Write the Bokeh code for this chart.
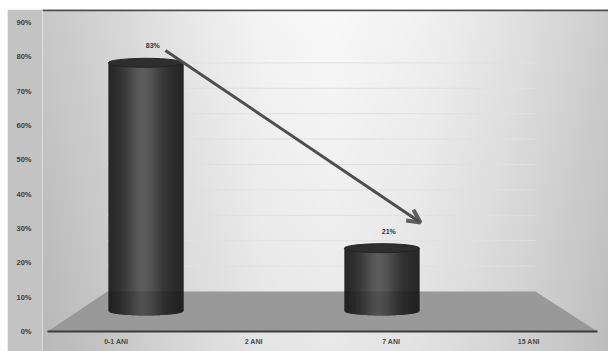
import numpy as np
from bokeh.plotting import figure
from bokeh.models import Range1d, FixedTicker, Arrow, OpenHead
from bokeh.core.properties import value
from bokeh.embed import file_html
from bokeh.resources import INLINE

# ---- data -------------------------------------------------------------
categories = ["0-1 ANI", "2 ANI", "7 ANI", "15 ANI"]
shares = [0.83, None, 0.21, None]
y_ticks = [0.0, 0.1, 0.2, 0.3, 0.4, 0.5, 0.6, 0.7, 0.8, 0.9]
y_tick_labels = ["0%", "10%", "20%", "30%", "40%", "50%", "60%", "70%", "80%", "90%"]

# ---- scene geometry (data units: x = category slot, y = share) ---------
FONT = "Liberation Sans"
X_LO, X_HI = -0.536, 3.580
Y_LO, Y_HI = -0.0583, 0.938
FRONT_L, FRONT_R, FRONT_Y = -0.5, 3.5, 0.0        # front edge of the floor
BACK_L, BACK_R, BACK_Y = -0.064, 3.049, 0.1165    # back edge of the floor
WALL_STEP = 0.074                                 # 10 % on the back wall
ROW_X0, ROW_DX = 0.216, 0.858                     # cylinder row, half way in
ROW_BASE, ROW_SCALE = 0.0597, 0.871
RADIUS = 0.273
ELL = 0.0131
N_STRIPS = 60

p = figure(width=601, height=342, x_range=Range1d(X_LO, X_HI),
           y_range=Range1d(Y_LO, Y_HI), output_backend="svg",
           toolbar_location=None, x_axis_location=None,
           min_border_left=35, min_border_right=0, min_border_top=0,
           min_border_bottom=0, border_fill_color="#c3c3c3",
           background_fill_color="#eeeeee", outline_line_color=None,
           margin=(9, 0, 0, 7))
p.grid.visible = False

# ---- background: soft horizontal/vertical gradient -----------------------
W, H = 283, 171
px = 42 + (np.arange(W) + 0.5) * 2.0
py = 351 - (np.arange(H) + 0.5) * 2.0
stops_x = [42, 100, 180, 260, 330, 420, 500, 560, 608]
stops_g = [0xc8, 0xd4, 0xe7, 0xf5, 0xf9, 0xf2, 0xe5, 0xd8, 0xcd]
gx = np.interp(px, stops_x, stops_g)
gray = gx[None, :] - 16.0 * ((py[:, None] - 9) / 342.0)
gray = np.clip(gray, 0, 255).astype(np.uint32)
img = (255 << 24) | (gray << 16) | (gray << 8) | gray
p.image_rgba(image=[img.astype(np.uint32)], x=X_LO, y=Y_LO,
             dw=X_HI - X_LO, dh=Y_HI - Y_LO)

# ---- back wall gridlines ------------------------------------------------
wall_y = [BACK_Y + k * WALL_STEP for k in range(1, len(y_ticks))]
p.segment(x0=[BACK_L] * len(wall_y), y0=wall_y, x1=[BACK_R] * len(wall_y),
          y1=wall_y, line_color="#e0e0e0", line_width=1)

# ---- floor ---------------------------------------------------------------
floor_xs = [FRONT_L, FRONT_R, BACK_R, BACK_L]
floor_ys = [FRONT_Y, FRONT_Y, BACK_Y, BACK_Y]
p.patch(floor_xs, floor_ys, fill_color="#b0b0b0", line_color=None)

# ---- cylinders -------------------------------------------------------------
def shade(u):
    v = 38 + 44 * np.exp(-((u + 0.08) / 0.45) ** 2) + 10 * (1 - u * u)
    g = int(round(v))
    return "#%02x%02x%02x" % (g, g, g)

def arc(u):
    return np.sqrt(max(0.0, 1 - u * u))

edges = np.linspace(-1.0, 1.0, N_STRIPS + 1)
step = edges[1] - edges[0]
strip_xs, strip_ys, strip_col = [], [], []
caps_x, caps_y = [], []
label_x, label_y, label_t = [], [], []
tops = {}
for i, v in enumerate(shares):
    if v is None:
        continue
    cx = ROW_X0 + ROW_DX * i
    top = ROW_BASE + v * ROW_SCALE
    tops[i] = (cx, top)
    for a, b in zip(edges[:-1], edges[1:]):
        # each strip reaches a little into the next one so no seams show
        c = min(1.0, b + step)
        m = 0.5 * (a + c)
        strip_xs.append([cx + RADIUS * a, cx + RADIUS * m, cx + RADIUS * c,
                         cx + RADIUS * c, cx + RADIUS * a])
        strip_ys.append([ROW_BASE - ELL * arc(a), ROW_BASE - ELL * arc(m),
                         ROW_BASE - ELL * arc(c), top, top])
        strip_col.append(shade(0.5 * (a + b)))
    caps_x.append(cx)
    caps_y.append(top)
    label_x.append(cx + 0.05)
    label_y.append(top + 0.05)
    label_t.append("%d%%" % round(v * 100))

p.patches(strip_xs, strip_ys, fill_color=strip_col, line_color=None)
p.ellipse(x=caps_x, y=caps_y, width=2 * RADIUS, height=2 * ELL,
          fill_color="#2e2e2e", line_color="#242424", line_width=1)

# floor tint over the feet of the cylinders
p.patch(floor_xs, floor_ys, fill_color="black", fill_alpha=0.13,
        line_color=None)
p.segment(x0=[FRONT_L], y0=[FRONT_Y], x1=[FRONT_R], y1=[FRONT_Y],
          line_color="#3c3c3c", line_width=2)

# ---- value labels and category labels ------------------------------------
p.text(x=label_x, y=label_y, text=label_t, text_font=value(FONT),
       text_font_size="7px", text_font_style="bold", text_color="#333333",
       text_align="center", text_baseline="middle")
p.text(x=list(range(len(categories))), y=[-0.0291] * len(categories),
       text=categories, text_font=value(FONT), text_font_size="7px",
       text_font_style="bold", text_color="#4a4a4a", text_align="center",
       text_baseline="middle")

# ---- trend arrow from the first to the last cylinder -----------------------
first, last = min(tops), max(tops)
p.add_layout(Arrow(end=OpenHead(size=13, line_width=4, line_color="#5e5e5e"),
                   x_start=tops[first][0] + 0.142, y_start=tops[first][1] + 0.036,
                   x_end=tops[last][0] + 0.281, y_end=tops[last][1] + 0.075,
                   line_color="#4e4e4e", line_width=3))

# ---- frame top rule ----------------------------------------------------------
p.segment(x0=[X_LO], y0=[Y_HI - 0.002], x1=[X_HI], y1=[Y_HI - 0.002],
          line_color="#4a4a4a", line_width=2)

# ---- y axis ------------------------------------------------------------------
ax = p.yaxis[0]
ax.ticker = FixedTicker(ticks=y_ticks)
ax.major_label_overrides = dict(zip(y_ticks, y_tick_labels))
ax.axis_line_color = None
ax.major_tick_line_color = None
ax.minor_tick_line_color = None
ax.major_label_standoff = 5
ax.major_label_text_font = FONT
ax.major_label_text_font_size = "7.5px"
ax.major_label_text_font_style = "bold"
ax.major_label_text_color = "#3c3c3c"

open("out.html", "w").write(file_html(p, INLINE))
